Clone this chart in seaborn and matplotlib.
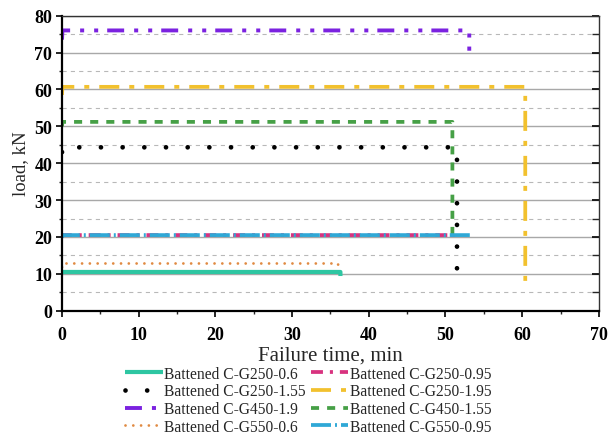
import numpy as np
import pandas as pd
import seaborn as sns
import matplotlib
matplotlib.use("Agg")
import matplotlib.pyplot as plt
from matplotlib.ticker import MultipleLocator

sns.set_style("ticks")
plt.rcParams["font.family"] = ["Liberation Serif", "DejaVu Serif"]
plt.rcParams["lines.scale_dashes"] = False

# Specimen names (legend order, row by row)
labels = [
    "Battened C-G250-0.6", "Battened C-G250-0.95",
    "Battened C-G250-1.55", "Battened C-G250-1.95",
    "Battened C-G450-1.9", "Battened C-G450-1.55",
    "Battened C-G550-0.6", "Battened C-G550-0.95",
]
# Initial load, sustained load, failure time and residual load after failure
start_load = [10.0, 19.8, 43.0, 58.5, 73.5, 50.0, 11.8, 19.8]
hold_load = [10.5, 20.5, 44.3, 60.7, 76.0, 51.2, 12.8, 20.5]
fail_time = [36.3, 51.0, 51.5, 60.4, 53.1, 50.9, 36.0, 53.2]
end_load = [9.4, 20.0, 8.6, 7.0, 70.5, 20.5, 12.0, 19.8]

colors = ["#2ec6a2", "#d8327f", "#000000", "#f2c12e",
          "#7b22e0", "#46a046", "#e08a42", "#2fa8d6"]
widths = [3.0, 2.7, 3.4, 2.7, 2.8, 2.7, 2.0, 2.7]
styles = [
    "-",
    (0, (8.6, 5.0, 2.2, 5.0)),
    (0, (0.01, 15.6)),
    (0, (14.4, 7.2, 3.6, 7.2)),
    (0, (12.2, 7.2, 2.9, 7.2, 2.9, 6.5)),
    (0, (5.8, 5.8)),
    (0, (0.01, 5.6)),
    (0, (14.4, 2.9, 1.4, 2.9)),
]
caps = ["butt", "butt", "round", "butt", "butt", "butt", "round", "butt"]

fig = plt.figure(figsize=(6.08, 4.39), dpi=100)
ax = fig.add_axes([0.102, 0.29, 0.883, 0.672])

handles = []
for i, name in enumerate(labels):
    df = pd.DataFrame({
        "time": [0.0, 0.05, fail_time[i], fail_time[i]],
        "load": [start_load[i], hold_load[i], hold_load[i], end_load[i]],
    })
    sns.lineplot(data=df, x="time", y="load", sort=False, estimator=None,
                 ax=ax, color=colors[i], linewidth=widths[i],
                 linestyle=styles[i], label=name)
    line = ax.get_lines()[-1]
    line.set_dash_capstyle(caps[i])
    line.set_solid_capstyle("butt")
    handles.append(line)

ax.set_xlim(0, 70)
ax.set_ylim(0, 80)
ax.xaxis.set_major_locator(MultipleLocator(10))
ax.xaxis.set_minor_locator(MultipleLocator(5))
ax.yaxis.set_major_locator(MultipleLocator(10))
ax.yaxis.set_minor_locator(MultipleLocator(5))

ax.grid(which="major", axis="y", color="#a8a8a8", linewidth=1.0, linestyle="-", zorder=0)
ax.grid(which="minor", axis="y", color="#b8b8b8", linewidth=0.8, linestyle=(0, (3, 3)), zorder=0)
ax.set_axisbelow(True)

ax.tick_params(axis="both", which="major", direction="out", length=4, width=1.2,
               labelsize=13, colors="black", pad=3)
ax.tick_params(axis="x", which="major", pad=7)
ax.tick_params(axis="both", which="minor", direction="out", length=2.5, width=1.0)
ax.tick_params(axis="y", which="both", right=True, labelright=False)
for lbl in ax.get_xticklabels() + ax.get_yticklabels():
    lbl.set_fontweight("bold")

for side in ["left", "bottom"]:
    ax.spines[side].set_linewidth(1.6)
    ax.spines[side].set_color("black")
for side in ["top", "right"]:
    ax.spines[side].set_linewidth(1.0)
    ax.spines[side].set_color("#333333")

# Inward ticks on the right-hand frame
for t in ax.yaxis.get_major_ticks() + ax.yaxis.get_minor_ticks():
    t.tick2line.set_marker(matplotlib.lines.TICKLEFT)
    t.tick2line.set_markersize(5)

ax.set_xlabel("Failure time, min", fontsize=15, labelpad=2)
ax.set_ylabel("load, kN", fontsize=13.5, labelpad=4)

# Two-column legend filled row by row
order = [0, 2, 4, 6, 1, 3, 5, 7]
ax.legend([handles[k] for k in order], [labels[k] for k in order],
          ncol=2, loc="upper center", bbox_to_anchor=(0.459, -0.166),
          frameon=False, fontsize=11.2, handlelength=2.4, handletextpad=0.1,
          columnspacing=0.35, labelspacing=0.1, borderaxespad=0)

fig.savefig("out.png", dpi=100)
